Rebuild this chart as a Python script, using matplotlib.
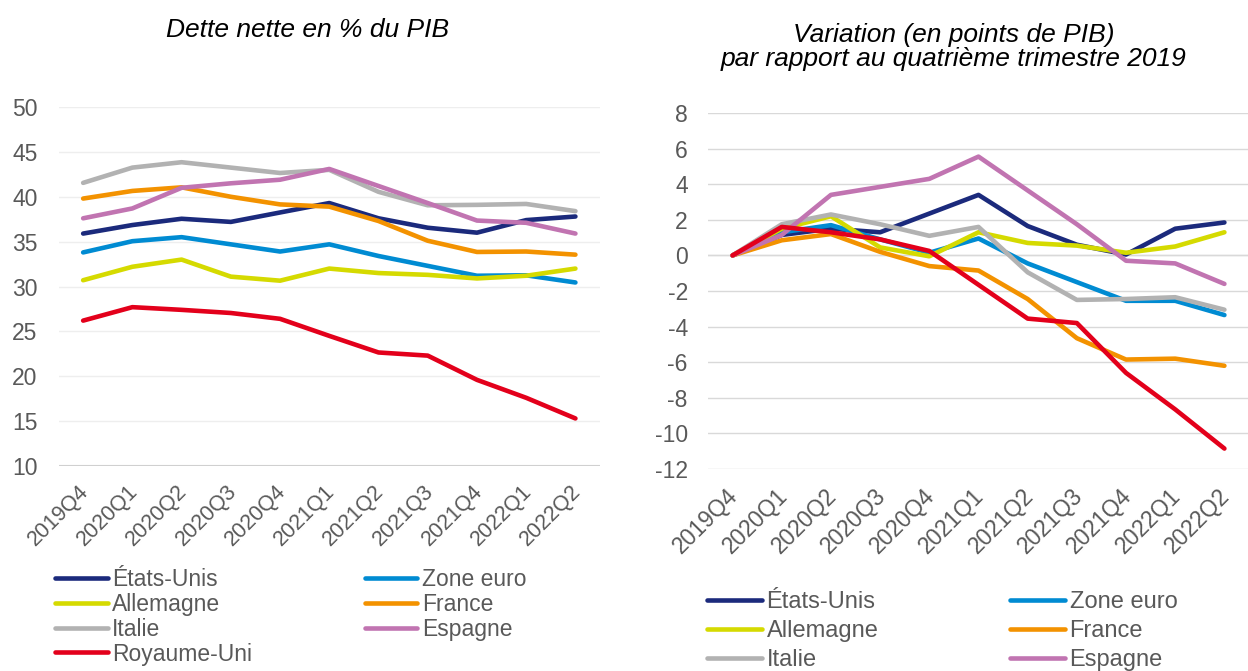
import matplotlib
matplotlib.use("Agg")
import matplotlib.pyplot as plt
import matplotlib.transforms as mtransforms
from matplotlib.ticker import FuncFormatter

plt.rcParams['font.family'] = ['Liberation Sans', 'DejaVu Sans']

quarters = ['2019Q4', '2020Q1', '2020Q2', '2020Q3', '2020Q4', '2021Q1',
            '2021Q2', '2021Q3', '2021Q4', '2022Q1', '2022Q2']

names = ['États-Unis', 'Zone euro', 'Allemagne', 'France', 'Italie', 'Espagne', 'Royaume-Uni']
colors = ['#1b2a7c', '#008bd2', '#d5da00', '#f39200', '#b2b2b2', '#c174b1', '#e3001b']

# Dette nette en % du PIB
etats_unis = [35.9, 36.85, 37.55, 37.2, 38.25, 39.3, 37.6, 36.55, 36.0, 37.4, 37.8]
zone_euro = [33.8, 35.05, 35.5, 34.7, 33.9, 34.7, 33.4, 32.3, 31.2, 31.25, 30.45]
allemagne = [30.7, 32.2, 33.0, 31.1, 30.65, 32.0, 31.5, 31.3, 30.9, 31.2, 32.0]
france = [39.8, 40.65, 41.05, 40.0, 39.15, 38.9, 37.3, 35.1, 33.85, 33.9, 33.55]
italie = [41.55, 43.25, 43.85, 43.25, 42.65, 43.0, 40.55, 39.05, 39.1, 39.2, 38.4]
espagne = [37.6, 38.7, 41.0, 41.5, 41.9, 43.1, 41.2, 39.3, 37.35, 37.1, 35.9]
royaume_uni = [26.2, 27.7, 27.4, 27.05, 26.4, 24.5, 22.65, 22.3, 19.6, 17.6, 15.3]

# Variation par rapport au 2019Q4 (points de PIB)
var_etats_unis = [0, 1.15, 1.5, 1.3, 2.35, 3.4, 1.65, 0.6, 0.05, 1.5, 1.85]
var_zone_euro = [0, 1.3, 1.7, 0.9, 0.15, 0.95, -0.45, -1.5, -2.55, -2.55, -3.35]
var_allemagne = [0, 1.5, 2.2, 0.45, -0.05, 1.3, 0.7, 0.55, 0.15, 0.5, 1.3]
var_france = [0, 0.85, 1.2, 0.2, -0.6, -0.85, -2.45, -4.65, -5.85, -5.8, -6.2]
var_italie = [0, 1.75, 2.3, 1.75, 1.1, 1.6, -0.95, -2.5, -2.45, -2.35, -3.05]
var_espagne = [0, 1.15, 3.4, 3.85, 4.3, 5.55, 3.65, 1.75, -0.3, -0.45, -1.6]
var_royaume_uni = [0, 1.6, 1.3, 0.9, 0.25, -1.65, -3.55, -3.8, -6.6, -8.65, -10.85]

levels = [etats_unis, zone_euro, allemagne, france, italie, espagne, royaume_uni]
changes = [var_etats_unis, var_zone_euro, var_allemagne, var_france,
           var_italie, var_espagne, var_royaume_uni]

fig = plt.figure(figsize=(12.48, 6.71), dpi=100)
ax1 = fig.add_axes([0.0469, 0.3055, 0.4339, 0.535])
ax2 = fig.add_axes([0.5673, 0.301, 0.4335, 0.5306])

text_color = '#595959'


def style(ax, grid_color, xsize, ypad, dx):
    x = list(range(len(quarters)))
    ax.set_xlim(-0.5, len(quarters) - 0.5)
    ax.set_xticks(x)
    ax.set_xticklabels(quarters, rotation=45, ha='right', rotation_mode='anchor')
    ax.grid(axis='y', color=grid_color, linewidth=1)
    ax.set_axisbelow(True)
    for side in ['top', 'right', 'left', 'bottom']:
        ax.spines[side].set_visible(False)
    ax.tick_params(axis='x', length=0, labelsize=xsize, colors=text_color, pad=8)
    ax.tick_params(axis='y', length=0, labelsize=16.5, colors=text_color, pad=ypad)
    ax.yaxis.set_major_formatter(FuncFormatter(lambda v, p: '%d' % v))
    # nudge the rotated labels like the original layout
    shift = mtransforms.ScaledTranslation(dx / 100, -4 / 100, fig.dpi_scale_trans)
    for lab in ax.get_xticklabels():
        lab.set_transform(lab.get_transform() + shift)


x = list(range(len(quarters)))
for vals, name, c in zip(levels, names, colors):
    ax1.plot(x, vals, color=c, linewidth=3.3, label=name, solid_capstyle='round')
ax1.set_ylim(10, 50)
ax1.set_yticks(range(10, 51, 5))
style(ax1, '#eeeeee', 15.5, 15, -5)
ax1.axhline(10, color='#d0d0d0', linewidth=1.5)

ax2.axhline(0, color='#d9d9d9', linewidth=1)
for vals, name, c in zip(changes, names, colors):
    ax2.plot(x, vals, color=c, linewidth=3.3, label=name, solid_capstyle='round')
ax2.set_ylim(-12, 8)
ax2.set_yticks(range(-12, 9, 2))
style(ax2, '#d9d9d9', 16.5, 14.5, -6)

fig.text(308 / 1248, 1 - 30 / 671, 'Dette nette en % du PIB', fontsize=19,
         style='italic', ha='center', va='center')
fig.text(954 / 1248, 1 - 47 / 671,
         'Variation (en points de PIB)\npar rapport au quatrième trimestre 2019',
         fontsize=19, style='italic', ha='center', va='center', linespacing=1.05)

# legend order: column-wise filling to mimic row-wise layout
order = [0, 2, 4, 6, 1, 3, 5]
h1, l1 = ax1.get_legend_handles_labels()
fig.legend([h1[i] for i in order], [l1[i] for i in order], ncol=2,
           loc='upper left', bbox_to_anchor=(55 / 1248, 0.1535), frameon=False,
           fontsize=16.5, labelcolor=text_color, handlelength=2.3, handletextpad=0.2,
           columnspacing=4.9, labelspacing=0.08, borderaxespad=0, borderpad=0)
h2, l2 = ax2.get_legend_handles_labels()
fig.legend([h2[i] for i in order], [l2[i] for i in order], ncol=2,
           loc='upper left', bbox_to_anchor=(707 / 1248, 0.119), frameon=False,
           fontsize=17, labelcolor=text_color, handlelength=2.33, handletextpad=0.19,
           columnspacing=4.2, labelspacing=0.3, borderaxespad=0, borderpad=0)

fig.savefig('out.png', dpi=100)
